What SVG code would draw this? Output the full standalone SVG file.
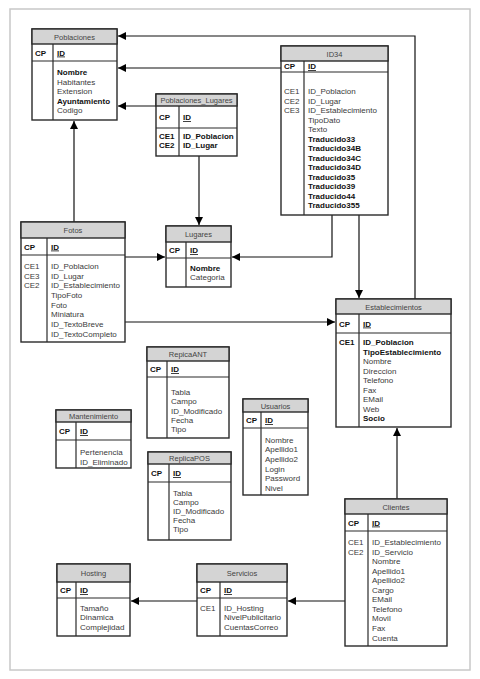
<svg xmlns="http://www.w3.org/2000/svg" width="480" height="679" viewBox="0 0 480 679">
<defs>
<style>
.frame{fill:#fff;stroke:#c8c8c8;stroke-width:1.5}
.box{fill:#fff;stroke:#2a2a2a;stroke-width:1.4}
.hdr{fill:#d4d4d4;stroke:#2a2a2a;stroke-width:1.4}
.ln{stroke:#2a2a2a;stroke-width:1.2;fill:none}
.con{stroke:#111;stroke-width:1.2;fill:none;marker-end:url(#arr)}
.conp{stroke:#111;stroke-width:1.2;fill:none}
text{font-family:"Liberation Sans",Arial,sans-serif;font-size:8px;fill:#3a3a3a}
.h{font-size:7.5px;text-anchor:middle;fill:#444}
.b{font-weight:bold;fill:#111}
.u{font-weight:bold;fill:#111;text-decoration:underline}
</style>
<marker id="arr" viewBox="0 0 10 10" refX="10" refY="5" markerWidth="9" markerHeight="8" markerUnits="userSpaceOnUse" orient="auto">
<path d="M0,0 L10,5 L0,10 z" fill="#000"/>
</marker>
</defs>
<rect class="frame" x="10" y="9" width="460" height="661"/>

<g id="connectors">
<line class="con" x1="74" y1="222" x2="74" y2="121"/>
<line class="con" x1="281" y1="68" x2="118" y2="68"/>
<line class="con" x1="156" y1="106" x2="118" y2="106"/>
<polyline class="con" points="415,299 415,36 118,36"/>
<line class="con" x1="199" y1="156" x2="199" y2="225"/>
<line class="con" x1="125" y1="257" x2="165" y2="257"/>
<polyline class="con" points="332,215 332,257 232,257"/>
<line class="con" x1="359" y1="215" x2="359" y2="298"/>
<line class="con" x1="125" y1="322" x2="335" y2="322"/>
<line class="con" x1="397" y1="499" x2="397" y2="428"/>
<line class="con" x1="345" y1="601" x2="288" y2="601"/>
<line class="con" x1="197" y1="601" x2="131" y2="601"/>
</g>

<g id="Poblaciones">
<rect class="box" x="32" y="29" width="85" height="91"/>
<rect class="hdr" x="32" y="29" width="85" height="15"/>
<line class="ln" x1="32" y1="61" x2="117" y2="61"/>
<line class="ln" x1="53" y1="44" x2="53" y2="120"/>
<text class="h" x="74.5" y="39.5">Poblaciones</text>
<text class="b" x="35" y="55.5">CP</text><text class="u" x="57" y="55.5">ID</text>
<text class="b" x="57" y="75">Nombre</text>
<text x="57" y="85">Habitantes</text>
<text x="57" y="94">Extension</text>
<text class="b" x="57" y="104">Ayuntamiento</text>
<text x="57" y="113">Codigo</text>
</g>

<g id="Poblaciones_Lugares">
<rect class="box" x="156" y="94" width="81" height="62"/>
<rect class="hdr" x="156" y="94" width="81" height="12"/>
<line class="ln" x1="156" y1="128" x2="237" y2="128"/>
<line class="ln" x1="179" y1="106" x2="179" y2="156"/>
<text class="h" x="196.5" y="103">Poblaciones_Lugares</text>
<text class="b" x="159" y="120">CP</text><text class="u" x="183" y="120">ID</text>
<text class="b" x="159" y="139">CE1</text><text class="b" x="183" y="139">ID_Poblacion</text>
<text class="b" x="159" y="148">CE2</text><text class="b" x="183" y="148">ID_Lugar</text>
</g>

<g id="ID34">
<rect class="box" x="281" y="46" width="107" height="169"/>
<rect class="hdr" x="281" y="46" width="107" height="15"/>
<line class="ln" x1="281" y1="72" x2="388" y2="72"/>
<line class="ln" x1="304" y1="61" x2="304" y2="215"/>
<text class="h" x="334.5" y="56.5">ID34</text>
<text class="b" x="284" y="69">CP</text><text class="u" x="308" y="69">ID</text>
<text x="284" y="94">CE1</text><text x="308" y="94">ID_Poblacion</text>
<text x="284" y="103.5">CE2</text><text x="308" y="103.5">ID_Lugar</text>
<text x="284" y="113">CE3</text><text x="308" y="113">ID_Establecimiento</text>
<text x="308" y="122.5">TipoDato</text>
<text x="308" y="132">Texto</text>
<text class="b" x="308" y="141.5">Traducido33</text>
<text class="b" x="308" y="151">Traducido34B</text>
<text class="b" x="308" y="160.5">Traducido34C</text>
<text class="b" x="308" y="170">Traducido34D</text>
<text class="b" x="308" y="179.5">Traducido35</text>
<text class="b" x="308" y="189">Traducido39</text>
<text class="b" x="308" y="198.5">Traducido44</text>
<text class="b" x="308" y="208">Traducido355</text>
</g>

<g id="Fotos">
<rect class="box" x="21" y="222" width="104" height="120"/>
<rect class="hdr" x="21" y="222" width="104" height="16"/>
<line class="ln" x1="21" y1="255" x2="125" y2="255"/>
<line class="ln" x1="47" y1="238" x2="47" y2="342"/>
<text class="h" x="73" y="233">Fotos</text>
<text class="b" x="24" y="249.5">CP</text><text class="u" x="51" y="249.5">ID</text>
<text x="24" y="269">CE1</text><text x="51" y="269">ID_Poblacion</text>
<text x="24" y="278.7">CE3</text><text x="51" y="278.7">ID_Lugar</text>
<text x="24" y="288.3">CE2</text><text x="51" y="288.3">ID_Establecimiento</text>
<text x="51" y="298">TipoFoto</text>
<text x="51" y="307.7">Foto</text>
<text x="51" y="317.3">Miniatura</text>
<text x="51" y="327">ID_TextoBreve</text>
<text x="51" y="336.7">ID_TextoCompleto</text>
</g>

<g id="Lugares">
<rect class="box" x="166" y="226" width="65" height="61"/>
<rect class="hdr" x="166" y="226" width="65" height="16"/>
<line class="ln" x1="166" y1="258" x2="231" y2="258"/>
<line class="ln" x1="186" y1="242" x2="186" y2="287"/>
<text class="h" x="198.5" y="237">Lugares</text>
<text class="b" x="169" y="253">CP</text><text class="u" x="190" y="253">ID</text>
<text class="b" x="190" y="271">Nombre</text>
<text x="190" y="280">Categoria</text>
</g>

<g id="Establecimientos">
<rect class="box" x="336" y="299" width="115" height="128"/>
<rect class="hdr" x="336" y="299" width="115" height="15"/>
<line class="ln" x1="336" y1="333" x2="451" y2="333"/>
<line class="ln" x1="359" y1="314" x2="359" y2="427"/>
<text class="h" x="393.5" y="309.5">Establecimientos</text>
<text class="b" x="339" y="326.5">CP</text><text class="u" x="363" y="326.5">ID</text>
<text class="b" x="339" y="345">CE1</text><text class="b" x="363" y="345">ID_Poblacion</text>
<text class="b" x="363" y="354.5">TipoEstablecimiento</text>
<text x="363" y="364">Nombre</text>
<text x="363" y="373.5">Direccion</text>
<text x="363" y="383">Telefono</text>
<text x="363" y="392.5">Fax</text>
<text x="363" y="402">EMail</text>
<text x="363" y="411.5">Web</text>
<text class="b" x="363" y="421">Socio</text>
</g>

<g id="RepicaANT">
<rect class="box" x="147" y="347" width="82" height="91"/>
<rect class="hdr" x="147" y="347" width="82" height="14"/>
<line class="ln" x1="147" y1="377" x2="229" y2="377"/>
<line class="ln" x1="167" y1="361" x2="167" y2="438"/>
<text class="h" x="188" y="357">RepicaANT</text>
<text class="b" x="150" y="372">CP</text><text class="u" x="171" y="372">ID</text>
<text x="171" y="395">Tabla</text>
<text x="171" y="404">Campo</text>
<text x="171" y="414">ID_Modificado</text>
<text x="171" y="423">Fecha</text>
<text x="171" y="432">Tipo</text>
</g>

<g id="Mantenimiento">
<rect class="box" x="56" y="410" width="75" height="58"/>
<rect class="hdr" x="56" y="410" width="75" height="12"/>
<line class="ln" x1="56" y1="440" x2="131" y2="440"/>
<line class="ln" x1="76" y1="422" x2="76" y2="468"/>
<text class="h" x="93.5" y="419">Mantenimiento</text>
<text class="b" x="59" y="434">CP</text><text class="u" x="80" y="434">ID</text>
<text x="80" y="455">Pertenencia</text>
<text x="80" y="465">ID_Eliminado</text>
</g>

<g id="Usuarios">
<rect class="box" x="243" y="399" width="65" height="96"/>
<rect class="hdr" x="243" y="399" width="65" height="13"/>
<line class="ln" x1="243" y1="428" x2="308" y2="428"/>
<line class="ln" x1="261" y1="412" x2="261" y2="495"/>
<text class="h" x="275.5" y="408.5">Usuarios</text>
<text class="b" x="246" y="423">CP</text><text class="u" x="265" y="423">ID</text>
<text x="265" y="443">Nombre</text>
<text x="265" y="452.3">Apellido1</text>
<text x="265" y="462">Apellido2</text>
<text x="265" y="471.7">Login</text>
<text x="265" y="481.3">Password</text>
<text x="265" y="490.7">Nivel</text>
</g>

<g id="ReplicaPOS">
<rect class="box" x="148" y="452" width="83" height="88"/>
<rect class="hdr" x="148" y="452" width="83" height="12"/>
<line class="ln" x1="148" y1="482" x2="231" y2="482"/>
<line class="ln" x1="169" y1="464" x2="169" y2="540"/>
<text class="h" x="189.5" y="461">ReplicaPOS</text>
<text class="b" x="151" y="476">CP</text><text class="u" x="173" y="476">ID</text>
<text x="173" y="496">Tabla</text>
<text x="173" y="505">Campo</text>
<text x="173" y="514">ID_Modificado</text>
<text x="173" y="523">Fecha</text>
<text x="173" y="532">Tipo</text>
</g>

<g id="Clientes">
<rect class="box" x="345" y="499" width="102" height="147"/>
<rect class="hdr" x="345" y="499" width="102" height="15"/>
<line class="ln" x1="345" y1="531" x2="447" y2="531"/>
<line class="ln" x1="368" y1="514" x2="368" y2="646"/>
<text class="h" x="396" y="509.5">Clientes</text>
<text class="b" x="348" y="525.5">CP</text><text class="u" x="372" y="525.5">ID</text>
<text x="348" y="545">CE1</text><text x="372" y="545">ID_Establecimiento</text>
<text x="348" y="554.5">CE2</text><text x="372" y="554.5">ID_Servicio</text>
<text x="372" y="564">Nombre</text>
<text x="372" y="573.6">Apellido1</text>
<text x="372" y="583">Apellido2</text>
<text x="372" y="592.7">Cargo</text>
<text x="372" y="602.3">EMail</text>
<text x="372" y="611.8">Telefono</text>
<text x="372" y="621.4">Movil</text>
<text x="372" y="631">Fax</text>
<text x="372" y="640.5">Cuenta</text>
</g>

<g id="Hosting">
<rect class="box" x="57" y="564" width="73" height="72"/>
<rect class="hdr" x="57" y="564" width="73" height="18"/>
<line class="ln" x1="57" y1="598" x2="130" y2="598"/>
<line class="ln" x1="76" y1="582" x2="76" y2="636"/>
<text class="h" x="93.5" y="576">Hosting</text>
<text class="b" x="60" y="593">CP</text><text class="u" x="80" y="593">ID</text>
<text x="80" y="611">Tamaño</text>
<text x="80" y="620">Dinamica</text>
<text x="80" y="630">Complejidad</text>
</g>

<g id="Servicios">
<rect class="box" x="197" y="564" width="90" height="72"/>
<rect class="hdr" x="197" y="564" width="90" height="18"/>
<line class="ln" x1="197" y1="598" x2="287" y2="598"/>
<line class="ln" x1="220" y1="582" x2="220" y2="636"/>
<text class="h" x="242" y="576">Servicios</text>
<text class="b" x="200" y="593">CP</text><text class="u" x="224" y="593">ID</text>
<text x="200" y="611">CE1</text><text x="224" y="611">ID_Hosting</text>
<text x="224" y="620">NivelPublicitario</text>
<text x="224" y="630">CuentasCorreo</text>
</g>
</svg>
